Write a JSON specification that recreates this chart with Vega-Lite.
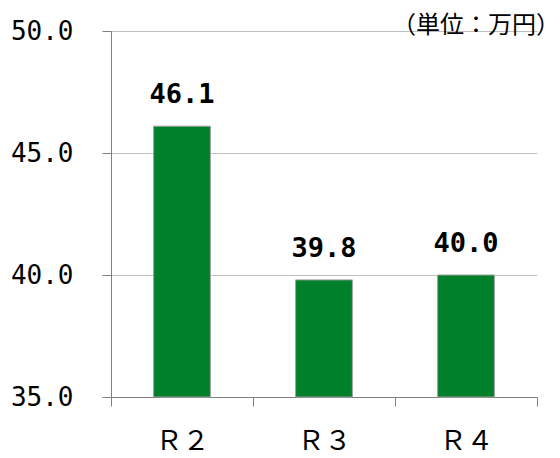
{
  "$schema": "https://vega.github.io/schema/vega-lite/v6.json",
  "width": 426,
  "height": 366,
  "autosize": {"type": "none"},
  "padding": {"left": 111, "top": 31, "right": 23, "bottom": 61},
  "background": "white",
  "title": {
    "text": "（単位：万円）",
    "anchor": "end",
    "frame": "group",
    "dx": 23,
    "offset": -20,
    "font": "Noto Sans CJK JP",
    "fontSize": 24,
    "fontWeight": "normal",
    "color": "#000000"
  },
  "data": {
    "values": [
      {"year": "Ｒ２", "value": 46.1},
      {"year": "Ｒ３", "value": 39.8},
      {"year": "Ｒ４", "value": 40.0}
    ]
  },
  "config": {
    "view": {"stroke": null}
  },
  "encoding": {
    "x": {
      "field": "year",
      "type": "nominal",
      "sort": null,
      "scale": {"paddingInner": 0, "paddingOuter": 0},
      "axis": {
        "title": null,
        "labelAngle": 0,
        "labelFont": "Noto Sans CJK JP",
        "labelFontSize": 27,
        "labelColor": "#000000",
        "labelPadding": 22,
        "tickBand": "extent",
        "tickSize": 9,
        "tickColor": "#808080",
        "domainColor": "#808080",
        "grid": false
      }
    },
    "y": {
      "field": "value",
      "type": "quantitative",
      "scale": {"domain": [35, 50], "zero": false, "nice": false},
      "axis": {
        "title": null,
        "values": [35, 40, 45, 50],
        "format": ".1f",
        "labelFont": "DejaVu Sans Mono",
        "labelFontSize": 26,
        "labelColor": "#000000",
        "labelPadding": 29,
        "tickSize": 9,
        "tickColor": "#808080",
        "domainColor": "#808080",
        "grid": true,
        "gridColor": "#bfbfbf"
      }
    }
  },
  "layer": [
    {
      "mark": {"type": "bar", "width": {"band": 0.4}, "color": "#00802A", "stroke": "#a0a0a0", "strokeWidth": 1},
      "encoding": {"y2": {"datum": 35}}
    },
    {
      "mark": {
        "type": "text",
        "baseline": "alphabetic",
        "dy": -23,
        "font": "DejaVu Sans Mono",
        "fontSize": 27,
        "fontWeight": "bold",
        "color": "#000000"
      },
      "encoding": {
        "text": {"field": "value", "type": "quantitative", "format": ".1f"}
      }
    }
  ]
}
